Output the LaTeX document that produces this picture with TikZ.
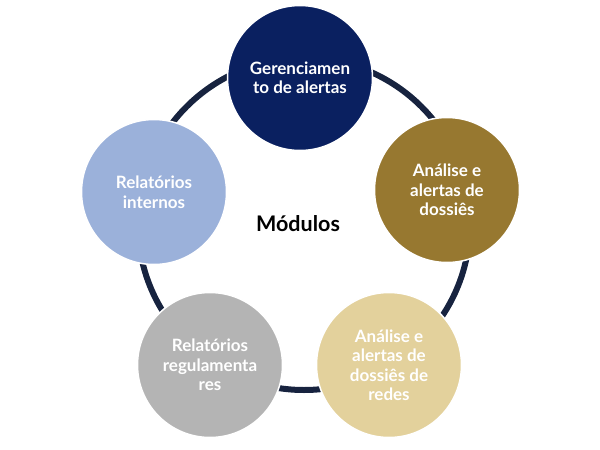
\documentclass[tikz,border=0pt]{standalone}
\usepackage{fontspec}
\setmainfont{Lato}
\usetikzlibrary{positioning}
\definecolor{navy}{HTML}{0A2060}
\definecolor{ouro}{HTML}{977830}
\definecolor{areia}{HTML}{E3D19C}
\definecolor{cinza}{HTML}{B4B4B4}
\definecolor{azulclaro}{HTML}{9BB1DA}
\definecolor{anel}{HTML}{17233F}
\tikzset{
    %Define standard module circle
    modulo/.style={
      circle,
      draw=white, line width=1.5pt,
      minimum size=145pt,
      inner sep=0pt,
      text=white,
      font=\fontsize{17}{19.5}\selectfont\bfseries,
      align=center},
    anelo/.style={
      draw=anel,
      line width=6pt},
    titulo/.style={
      font=\fontsize{21.5}{25}\selectfont\bfseries,
      text=black},
}
\begin{document}
\begin{tikzpicture}[x=1pt,y=-1pt]
    \useasboundingbox (0,0) rectangle (600,450);
    \coordinate (hub) at (304,224);
    \draw [anelo] (hub) circle (166pt);
    \node (gerencia) [modulo, fill=navy] at (300,78)
          {Gerenciamen\\to de alertas};
    \node (dossies) [modulo, fill=ouro] at (447,190)
          {Análise e\\alertas de\\dossiês};
    \node (redes) [modulo, fill=areia] at (389,365)
          {Análise e\\alertas de\\dossiês de\\redes};
    \node (regulam) [modulo, fill=cinza] at (210,365)
          {Relatórios\\regulamenta\\res};
    \node (internos) [modulo, fill=azulclaro] at (154,192)
          {Relatórios\\internos};
    \node (modulos) [titulo] at (298,224)
          {Módulos};
\end{tikzpicture}
\end{document}
